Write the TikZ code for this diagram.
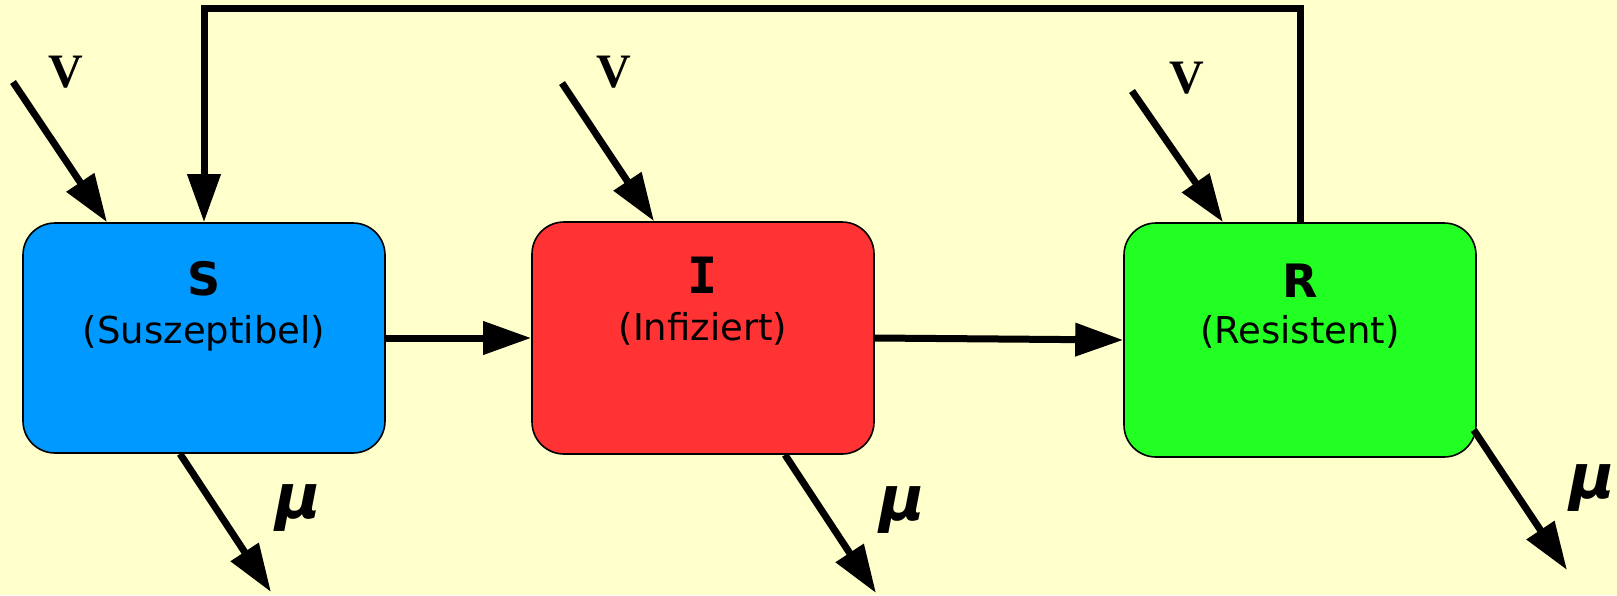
\documentclass[tikz,border=0pt]{standalone}
\usepackage{fontspec}
\setmainfont{DejaVu Sans}
\newfontfamily\vfont{Liberation Serif}
\newfontfamily\monofont{DejaVu Sans Mono}
\usetikzlibrary{arrows.meta,calc}
\definecolor{bg}{HTML}{FFFFCC}
\definecolor{sblue}{HTML}{0099FF}
\definecolor{ired}{HTML}{FF3333}
\definecolor{rgreen}{HTML}{22FF22}
\begin{document}
\begin{tikzpicture}[x=0.5pt,y=-0.5pt,
  box/.style={draw=black, line width=0.8pt, rounded corners=16pt, inner sep=0pt},
  flow/.style={line width=3.5pt, -{Triangle[length=24pt,width=16pt]}},
  title/.style={anchor=base, inner sep=0pt, font=\bfseries\fontsize{23}{23}\selectfont},
  sub/.style={anchor=base, inner sep=0pt, font=\fontsize{18.5}{18.5}\selectfont},
  vlab/.style={inner sep=0pt, font=\vfont\bfseries\fontsize{24}{24}\selectfont},
  mulab/.style={inner sep=0pt, font=\bfseries\itshape\fontsize{31}{31}\selectfont}]
\fill[bg] (0,0) rectangle (1617,595);
\useasboundingbox (0,0) rectangle (1617,595);

% boxes
\node[box, fill=sblue, minimum width=181pt, minimum height=115pt] (S) at (204,338) {};
\node[box, fill=ired, minimum width=171pt, minimum height=116pt] (I) at (703,338) {};
\node[box, fill=rgreen, minimum width=176pt, minimum height=117pt] (R) at (1300,340) {};

% texts
\node[title] (St) at (204,295) {S};
\node[sub] (Ss) at (204,343) {(Suszeptibel)};
\node[title, font=\monofont\bfseries\fontsize{25}{25}\selectfont] (It) at (703,293) {I};
\node[sub] (Is) at (703,340) {(Infiziert)};
\node[title] (Rt) at (1300,297) {R};
\node[sub] (Rs) at (1300,343) {(Resistent)};

% free ends
\coordinate (vS) at (13,82);
\coordinate (vI) at (562,83);
\coordinate (vR) at (1132,91);
\coordinate (mS) at (271,592);
\coordinate (mI) at (876,593);
\coordinate (mR) at (1567,570);

% flows
\draw[flow] (S.east) -- (I.west);
\draw[flow] (I.east) -- (R.west);
\draw[flow] (R.north) -- ++(0,-214) -| (S.north);
\draw[flow] (vS) -- ($(S.north)+(-97,0)$);
\draw[flow] (vI) -- ($(I.north)+(-49,0)$);
\draw[flow] (vR) -- ($(R.north)+(-77,0)$);
\draw[flow] ($(S.south)+(-24,0)$) -- (mS);
\draw[flow] ($(I.south)+(82,0)$) -- (mI);
\draw[flow] ($(R.east)+(-3,90)$) -- (mR);

% labels
\node[vlab] (lvS) at (66,72) {V};
\node[vlab] (lvI) at (614,72) {V};
\node[vlab] (lvR) at (1187,78) {V};
\node[mulab] (lmS) at (298,508) {μ};
\node[mulab] (lmI) at (902,510) {μ};
\node[mulab] (lmR) at (1592,488) {μ};
\end{tikzpicture}
\end{document}
